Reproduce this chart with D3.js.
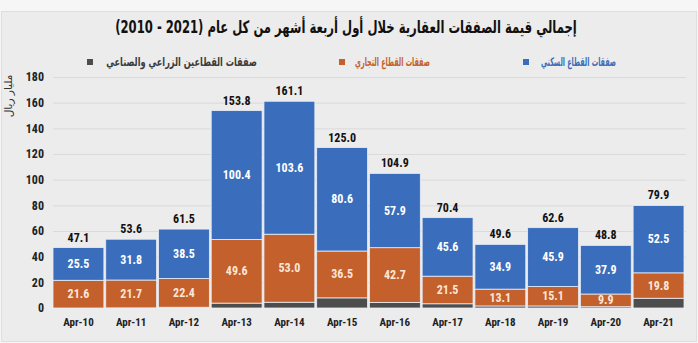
<!DOCTYPE html>
<html>
<head>
<meta charset="utf-8">
<script src="https://cdn.jsdelivr.net/npm/d3@7"></script>
<style>
  html, body { margin: 0; padding: 0; background: #f4f4f4; }
  svg { display: block; }
</style>
</head>
<body>
<svg id="chart" width="698" height="343"></svg>
<script>
// Quarterly (Jan–Apr) real-estate transaction values, billion SAR
const categories = ["Apr-10","Apr-11","Apr-12","Apr-13","Apr-14","Apr-15","Apr-16","Apr-17","Apr-18","Apr-19","Apr-20","Apr-21"];
const residential = [25.5, 31.8, 38.5, 100.4, 103.6, 80.6, 57.9, 45.6, 34.9, 45.9, 37.9, 52.5];
const commercial  = [21.6, 21.7, 22.4, 49.6, 53.0, 36.5, 42.7, 21.5, 13.1, 15.1, 9.9, 19.8];
const agriIndustrial = [0.0, 0.1, 0.6, 3.8, 4.5, 7.9, 4.3, 3.3, 1.6, 1.6, 1.0, 7.6];
const totals = [47.1, 53.6, 61.5, 153.8, 161.1, 125.0, 104.9, 70.4, 49.6, 62.6, 48.8, 79.9];
const yTicks = [0, 20, 40, 60, 80, 100, 120, 140, 160, 180];

// the year range is wrapped in a left-to-right embedding so it reads 2010 - 2021
const titleText = "إجمالي قيمة الصفقات العقارية خلال أول أربعة أشهر من كل عام (\u202A2010 - 2021\u202C)";
const seriesNames = ["صفقات القطاعين الزراعي والصناعي", "صفقات القطاع التجاري", "صفقات القطاع السكني"];
const colors = ["#4d4d4d", "#c4602b", "#3a6dbb"];
const legendText = ["#3b3b3b", "#c4602b", "#3a6dbb"];

const numFont = "'Liberation Sans Narrow', 'Arial Narrow', 'Roboto Condensed', 'Liberation Sans', sans-serif";
const arFont = "'DejaVu Sans', 'Noto Sans', sans-serif";

const svg = d3.select("#chart");

// background frame
svg.append("rect").attr("x", 0).attr("y", 0).attr("width", 698).attr("height", 343).attr("fill", "#f6f6f6");
svg.append("rect").attr("x", 1.5).attr("y", 11.5).attr("width", 695).attr("height", 330)
  .attr("fill", "#ececec").attr("stroke", "#dedede");

// horizontally condensed text helper: centred on cx, fitted to width w
function fittedText(parent, str, cx, cy, w, style) {
  const g = parent.append("g").attr("transform", `translate(${cx},${cy})`);
  const t = g.append("text")
    .attr("x", 0).attr("y", 0)
    .attr("text-anchor", "middle")
    .attr("direction", "rtl")
    .style("font-family", arFont)
    .style("font-weight", style.weight || "bold")
    .style("font-size", style.size)
    .attr("fill", style.fill)
    .text(str);
  const len = t.node().getComputedTextLength();
  g.attr("transform", `translate(${cx},${cy}) scale(${w / len},1)`);
  return g;
}

// title
fittedText(svg, titleText, 346, 33, 462, { size: "17px", fill: "#111" });

// scales
const x = d3.scaleBand().domain(categories).range([53, 684]).paddingInner(0.035).paddingOuter(0);
const y = d3.scaleLinear().domain([0, 180]).range([308, 77]);

// gridlines
svg.append("g").selectAll("line").data(yTicks.filter(t => t > 0)).join("line")
  .attr("x1", 53).attr("x2", 686)
  .attr("y1", d => y(d) + 0.5).attr("y2", d => y(d) + 0.5)
  .attr("stroke", "#dadada").attr("stroke-width", 1);

// y axis (labels only)
const yAxis = d3.axisLeft(y).tickValues(yTicks).tickSize(0).tickPadding(0);
const gy = svg.append("g").attr("transform", "translate(44,0)").call(yAxis);
gy.select(".domain").remove();
gy.selectAll("text")
  .style("font-family", numFont).style("font-weight", "bold").style("font-size", "12px")
  .attr("fill", "#222");

// y axis title
svg.append("text")
  .attr("transform", "translate(12,96) rotate(-90)")
  .attr("text-anchor", "middle")
  .attr("direction", "rtl")
  .style("font-family", arFont).style("font-size", "10.5px")
  .attr("fill", "#333")
  .text("مليار ريال");

// stacked data
const rows = categories.map((c, i) => ({ cat: c, s0: agriIndustrial[i], s1: commercial[i], s2: residential[i] }));
const stack = d3.stack().keys(["s0", "s1", "s2"])(rows);

const layers = svg.append("g").selectAll("g").data(stack).join("g")
  .attr("fill", (d, i) => colors[i]);
layers.selectAll("rect").data(d => d).join("rect")
  .attr("x", d => x(d.data.cat))
  .attr("width", x.bandwidth())
  .attr("y", d => y(d[1]))
  .attr("height", d => Math.max(0, y(d[0]) - y(d[1])))
  .attr("stroke", "#e8eef8").attr("stroke-width", 0.8);

// segment value labels (commercial and residential)
[1, 2].forEach(k => {
  svg.append("g").selectAll("text").data(stack[k]).join("text")
    .attr("x", d => x(d.data.cat) + x.bandwidth() / 2)
    .attr("y", d => (y(d[0]) + y(d[1])) / 2 + 4)
    .attr("text-anchor", "middle")
    .style("font-family", numFont).style("font-weight", "bold").style("font-size", "12px")
    .attr("fill", k === 1 ? "#fbe6d8" : "#ffffff")
    .text(d => d3.format(".1f")(d.data["s" + k]));
});

// totals above bars
svg.append("g").selectAll("text").data(categories).join("text")
  .attr("x", c => x(c) + x.bandwidth() / 2)
  .attr("y", (c, i) => y(totals[i]) - 6)
  .attr("text-anchor", "middle")
  .style("font-family", numFont).style("font-weight", "bold").style("font-size", "12px")
  .attr("fill", "#111")
  .text((c, i) => d3.format(".1f")(totals[i]));

// x axis labels
const xAxis = d3.axisBottom(x).tickSize(0).tickPadding(0);
const gx = svg.append("g").attr("transform", "translate(0,318)").call(xAxis);
gx.select(".domain").remove();
gx.selectAll("text")
  .style("font-family", numFont).style("font-weight", "bold").style("font-size", "11px")
  .attr("fill", "#222");

// legend (right-to-left: residential, commercial, agri/industrial)
const legendItems = [
  { name: seriesNames[2], color: colors[2], tc: legendText[2], left: 541, w: 75, marker: 523 },
  { name: seriesNames[1], color: colors[1], tc: legendText[1], left: 355, w: 75, marker: 339 },
  { name: seriesNames[0], color: colors[0], tc: legendText[0], left: 106, w: 151, marker: 87 }
];
const lg = svg.append("g");
legendItems.forEach(it => {
  fittedText(lg, it.name, it.left + it.w / 2, 66, it.w, { size: "12px", fill: it.tc });
  lg.append("rect")
    .attr("x", it.marker).attr("y", 59)
    .attr("width", 6).attr("height", 6)
    .attr("fill", it.color);
});
</script>
</body>
</html>
